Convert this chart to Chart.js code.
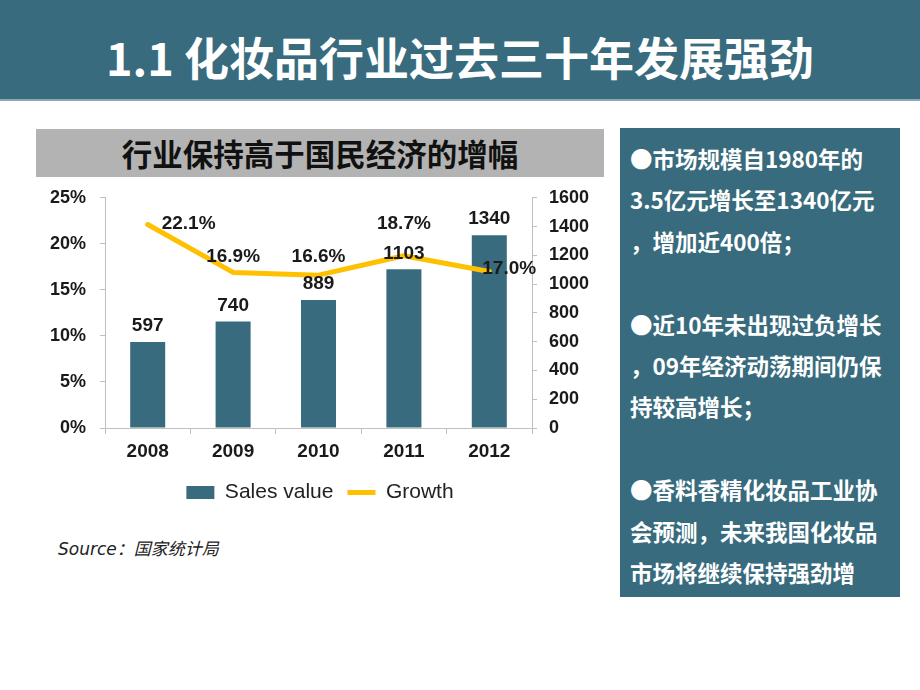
<!DOCTYPE html>
<html>
<head>
<meta charset="utf-8">
<script src="https://cdn.jsdelivr.net/npm/chart.js@4.4.1/dist/chart.umd.min.js"></script>
<style>
  html,body{margin:0;padding:0;background:#fff;width:920px;height:690px;overflow:hidden;}
  body{position:relative;font-family:"Noto Sans CJK SC","Liberation Sans",sans-serif;}
  #titlebar{position:absolute;left:0;top:0;width:920px;height:99px;background:#386B7D;border-bottom:2px solid #8aa9b5;}
  #titlebar div{position:absolute;left:0;width:920px;top:25px;text-align:center;color:#fff;font-weight:bold;font-size:45px;line-height:64px;font-family:"Noto Sans CJK SC",sans-serif;white-space:nowrap;}
  #subbar{position:absolute;left:36px;top:129px;width:568px;height:48px;background:#B3B3B3;}
  #subbar div{position:absolute;left:0;width:568px;top:4px;text-align:center;color:#111;font-weight:bold;font-size:30.5px;line-height:40px;white-space:nowrap;}
  #side{position:absolute;left:620px;top:128px;width:280px;height:469px;background:#386B7D;}
  #side .l{position:absolute;left:10px;color:#fff;font-weight:bold;font-size:22.5px;line-height:30px;white-space:nowrap;}
  #chartbox{position:absolute;left:30px;top:173px;width:580px;height:340px;}
  #source{position:absolute;left:58px;top:535px;font-size:17px;font-style:italic;color:#222;font-family:"DejaVu Sans","Noto Sans CJK SC",sans-serif;white-space:nowrap;}
</style>
</head>
<body>
<div id="titlebar"><div>1.1 化妆品行业过去三十年发展强劲</div></div>
<div id="subbar"><div>行业保持高于国民经济的增幅</div></div>
<div id="side"></div>
<div id="chartbox"><canvas id="c" width="580" height="340"></canvas></div>
<div id="source">Source：国家统计局</div>
<script>
// ---- data ----
const years = ['2008', '2009', '2010', '2011', '2012'];
const salesValue = [597, 740, 889, 1103, 1340];
const growthPct = [22.1, 16.9, 16.6, 18.7, 17.0];
const leftTickLabels = ['0%', '5%', '10%', '15%', '20%', '25%'];
const rightTickLabels = ['0', '200', '400', '600', '800', '1000', '1200', '1400', '1600'];
const seriesNames = ['Sales value', 'Growth'];
const sideLines = [
  '●市场规模自1980年的',
  '3.5亿元增长至1340亿元',
  '，增加近400倍；',
  '',
  '●近10年未出现过负增长',
  '，09年经济动荡期间仍保',
  '持较高增长；',
  '',
  '●香料香精化妆品工业协',
  '会预测，未来我国化妆品',
  '市场将继续保持强劲增'
];

// ---- side text ----
const side = document.getElementById('side');
sideLines.forEach((t, i) => {
  const d = document.createElement('div');
  d.className = 'l';
  d.style.top = (15 + i * 41.4) + 'px';
  d.textContent = t;
  side.appendChild(d);
});

// ---- style ----
const TEAL = '#386B7D';
const GOLD = '#FFC000';
const AXIS = '#BFBFBF';
const TXT = '#1a1a1a';
const NUMFONT = '"Liberation Sans", Arial, sans-serif';
// label placement relative to the data point: [dx, dy, align]
const growthLabelPlace = [[14, -1, 'left'], [0, -16, 'center'], [0, -18, 'center'], [0, -32, 'center'], [-7, -3, 'left']];
const barLabelDy = -16;

const labelPlugin = {
  id: 'valueLabels',
  afterDatasetsDraw(chart) {
    const ctx = chart.ctx;
    ctx.save();
    ctx.font = 'bold 19px ' + NUMFONT;
    ctx.fillStyle = TXT;
    ctx.textBaseline = 'middle';
    const barMeta = chart.getDatasetMeta(0);
    barMeta.data.forEach((el, i) => {
      ctx.textAlign = 'center';
      ctx.fillText(String(salesValue[i]), el.x, el.y + barLabelDy);
    });
    const lineMeta = chart.getDatasetMeta(1);
    lineMeta.data.forEach((el, i) => {
      const p = growthLabelPlace[i];
      ctx.textAlign = p[2];
      ctx.fillText(growthPct[i].toFixed(1) + '%', el.x + p[0], el.y + p[1]);
    });
    ctx.restore();
  }
};

new Chart(document.getElementById('c'), {
  type: 'bar',
  data: {
    labels: years,
    datasets: [
      {
        type: 'bar', label: seriesNames[0], data: salesValue, yAxisID: 'y1',
        backgroundColor: TEAL, borderWidth: 0,
        barPercentage: 0.41, categoryPercentage: 1, order: 2
      },
      {
        type: 'line', label: seriesNames[1], data: growthPct, yAxisID: 'y',
        borderColor: GOLD, backgroundColor: GOLD, borderWidth: 5,
        pointRadius: 0, tension: 0, fill: false, order: 1,
        borderCapStyle: 'round', borderJoinStyle: 'round'
      }
    ]
  },
  options: {
    responsive: false,
    animation: false,
    events: [],
    layout: { padding: { top: 16, left: 0, right: 0, bottom: 0 } },
    plugins: {
      tooltip: { enabled: false },
      legend: {
        position: 'bottom',
        labels: {
          font: { size: 21, family: NUMFONT },
          color: '#222',
          usePointStyle: true,
          pointStyleWidth: 28,
          boxHeight: 13,
          padding: 14,
          sort: (a, b) => a.datasetIndex - b.datasetIndex,
          generateLabels: (chart) => chart.data.datasets.map((ds, i) => ({
            text: ds.label,
            datasetIndex: i,
            fillStyle: i === 0 ? TEAL : GOLD,
            strokeStyle: i === 0 ? TEAL : GOLD,
            lineWidth: i === 0 ? 0 : 5,
            pointStyle: i === 0 ? 'rect' : 'line',
            hidden: false,
            fontColor: '#222'
          }))
        }
      }
    },
    scales: {
      x: {
        offset: true,
        grid: { display: true, offset: true, drawOnChartArea: false, drawTicks: true, tickLength: 6, color: AXIS },
        border: { display: true, color: AXIS },
        ticks: { font: { size: 19, weight: 'bold', family: NUMFONT }, color: TXT, padding: 6 },
        afterFit: (s) => { s.height = 40; }
      },
      y: {
        position: 'left', min: 0, max: 25,
        grid: { display: true, drawOnChartArea: false, drawTicks: true, tickLength: 5, color: AXIS },
        border: { display: true, color: AXIS },
        ticks: {
          stepSize: 5, font: { size: 18, weight: 'bold', family: NUMFONT }, color: TXT, padding: 14,
          callback: (v, i) => leftTickLabels[i]
        },
        afterFit: (s) => { s.width = 75; }
      },
      y1: {
        position: 'right', min: 0, max: 1600,
        grid: { display: true, drawOnChartArea: false, drawTicks: true, tickLength: 5, color: AXIS },
        border: { display: true, color: AXIS },
        ticks: {
          stepSize: 200, font: { size: 18, weight: 'bold', family: NUMFONT }, color: TXT, padding: 12,
          callback: (v, i) => rightTickLabels[i]
        },
        afterFit: (s) => { s.width = 78; }
      }
    }
  },
  plugins: [labelPlugin]
});
</script>
</body>
</html>
